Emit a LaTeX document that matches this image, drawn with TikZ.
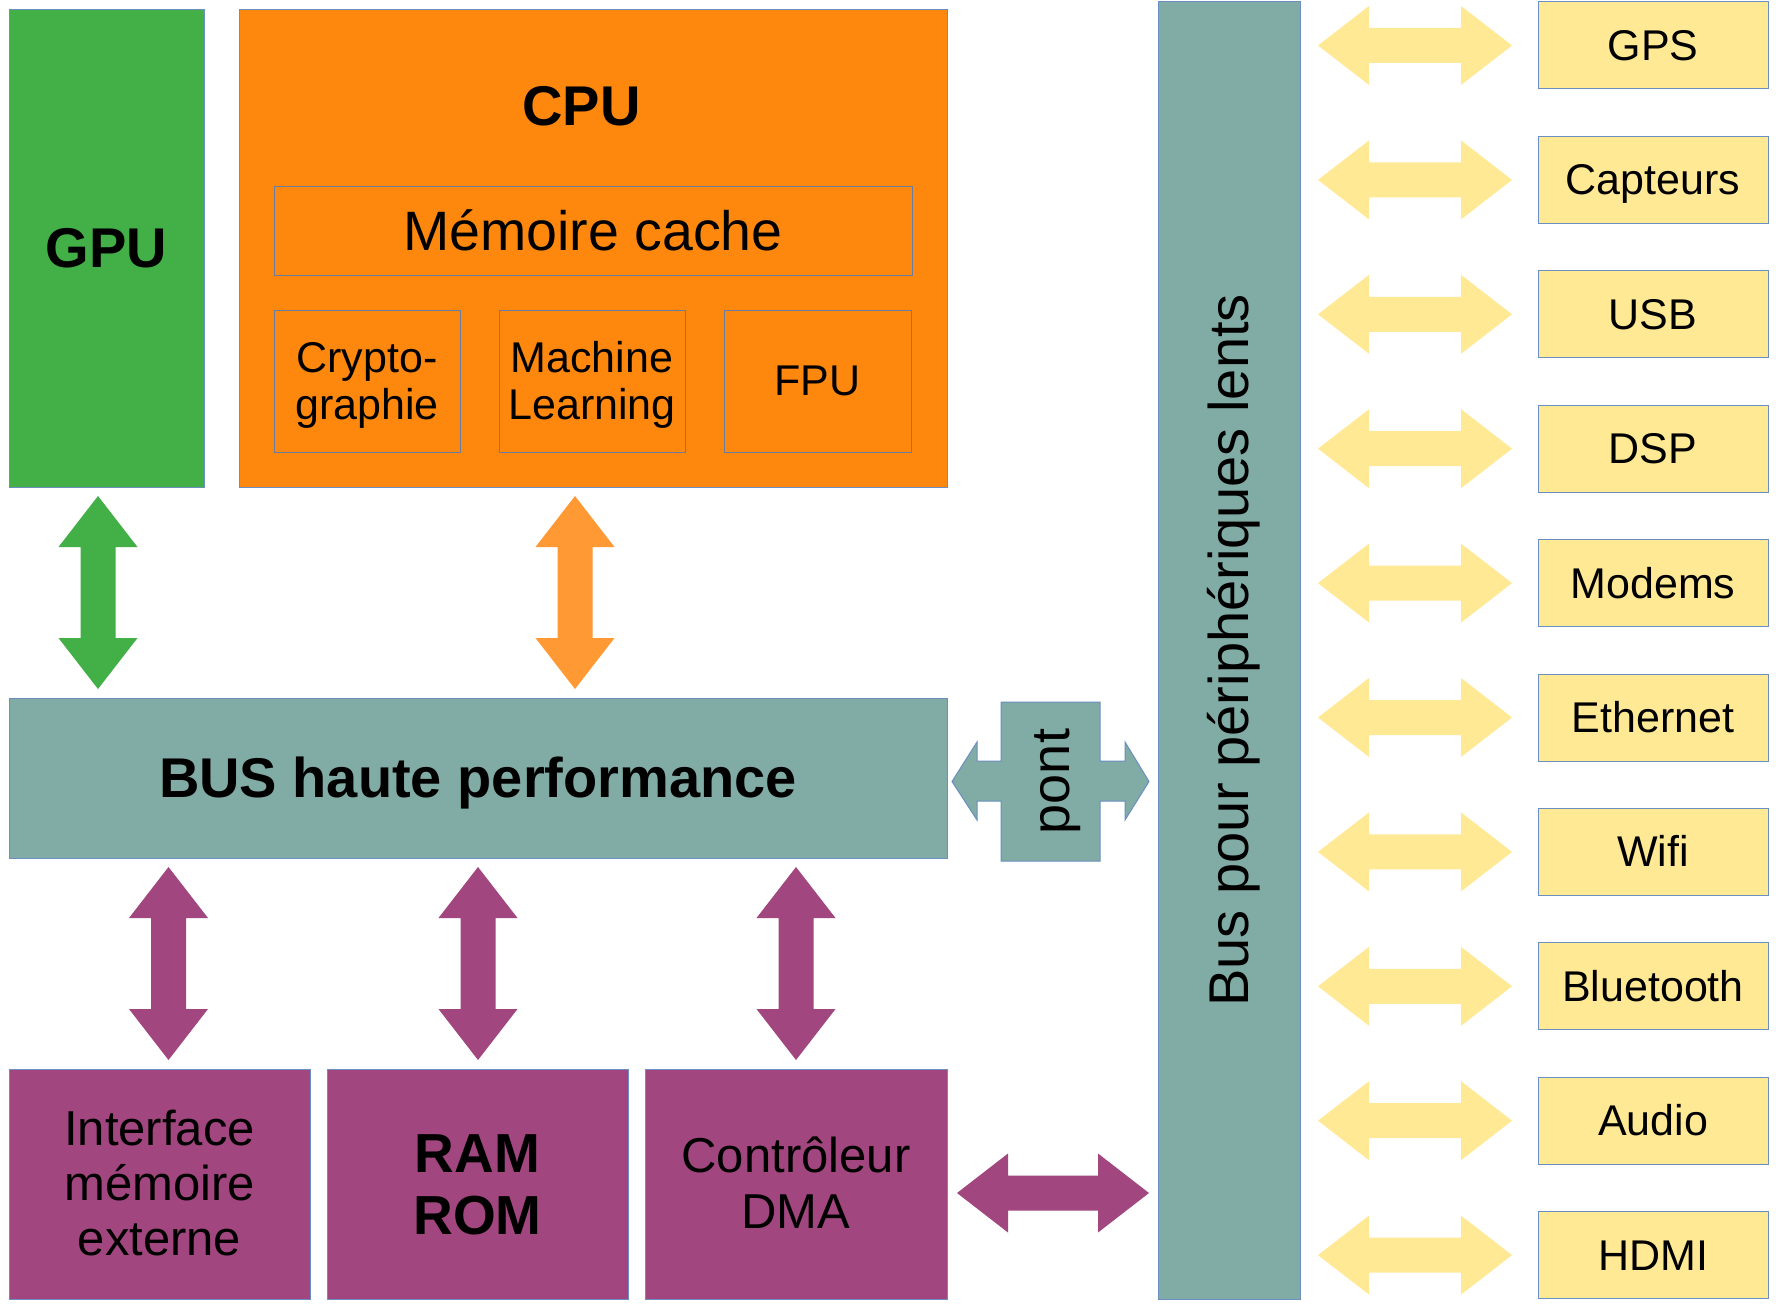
\documentclass[tikz,border=0pt]{standalone}
\usepackage{fontspec}
\setmainfont{Liberation Sans}
\usetikzlibrary{calc}
\definecolor{cgreen}{RGB}{66,175,71}
\definecolor{corange}{RGB}{254,135,14}
\definecolor{carrorange}{RGB}{255,153,51}
\definecolor{cteal}{RGB}{129,171,165}
\definecolor{cpurple}{RGB}{161,70,126}
\definecolor{cyellow}{RGB}{255,233,148}
\definecolor{cedge}{RGB}{106,143,192}
\definecolor{cinner}{RGB}{105,125,160}
\newcommand\tp{\rule{0pt}{0.905em}}
\newcommand\bt{\rule[-0.212em]{0pt}{0.212em}}
\newcommand\blockarrow[3]{%
  \fill[#1] (#2)
    -- ($(#2)!51pt!(#3)!39.5pt!90:(#3)$)
    -- ($(#2)!51pt!(#3)!17.5pt!90:(#3)$)
    -- ($(#3)!51pt!(#2)!17.5pt!-90:(#2)$)
    -- ($(#3)!51pt!(#2)!39.5pt!-90:(#2)$)
    -- (#3)
    -- ($(#3)!51pt!(#2)!39.5pt!90:(#2)$)
    -- ($(#3)!51pt!(#2)!17.5pt!90:(#2)$)
    -- ($(#2)!51pt!(#3)!17.5pt!-90:(#3)$)
    -- ($(#2)!51pt!(#3)!39.5pt!-90:(#3)$)
    -- cycle;}
\tikzset{
  box/.style={draw=cedge, line width=1pt, inner sep=0pt, align=center},
  subbox/.style={draw=cinner, line width=1pt, fill=corange, inner sep=0pt, align=center,
    font={\fontsize{43pt}{47pt}\selectfont}},
  bigbold/.style={font={\fontsize{56pt}{62pt}\selectfont\bfseries}},
  periph/.style={box, fill=cyellow, minimum width=230pt, minimum height=87pt,
    font={\fontsize{43pt}{47pt}\selectfont}},
  membox/.style={box, fill=cpurple, minimum width=301pt, minimum height=230pt},
}
\begin{document}
\begin{tikzpicture}[x=1pt,y=-1pt]
\useasboundingbox (0,0) rectangle (1776,1308);
\fill[white] (0,0) rectangle (1776,1308);

% GPU and CPU
\node[box, fill=cgreen, minimum width=195pt, minimum height=477pt, bigbold] (gpu) at (106.5,248.5) {\tp GPU\bt};
\node[box, fill=corange, minimum width=708pt, minimum height=477pt] (cpu) at (593,248.5) {};
\node[anchor=base, inner sep=0pt, bigbold] (cputitle) at (581.5,126) {CPU};
\node[subbox, minimum width=638pt, minimum height=88pt, font={\fontsize{55.5pt}{62pt}\selectfont}] (cache) at (593,231) {\tp Mémoire cache\bt};
\node[subbox, minimum width=186pt, minimum height=142pt] (crypto) at (367,381) {\tp Crypto-\\graphie\bt};
\node[subbox, minimum width=186pt, minimum height=142pt] (ml) at (592,381) {\tp Machine\\Learning\bt};
\node[subbox, minimum width=187pt, minimum height=142pt] (fpu) at (817.5,381) {\tp FPU\bt};

% high performance bus
\node[box, fill=cteal, minimum width=938pt, minimum height=160pt, bigbold] (bus) at (478,778) {\tp BUS haute performance\bt};

% memory side
\node[membox, font={\fontsize{49pt}{55pt}\selectfont}] (ext) at (159.5,1184) {\tp Interface\\mémoire\\externe\bt};
\node[membox, font={\fontsize{55pt}{62pt}\selectfont\bfseries}] (ram) at (477.5,1184) {\tp RAM\\ROM\bt};
\node[membox, minimum width=302pt, font={\fontsize{49pt}{56pt}\selectfont}] (dma) at (796,1184) {\tp Contrôleur\\DMA\bt};

% slow bus
\node[box, fill=cteal, rotate=90, minimum width=1297pt, minimum height=142pt,
  font={\fontsize{56pt}{62pt}\selectfont}] (slow) at (1229,650.5) {\tp Bus pour périphériques lents\bt};

% bridge
\draw[draw=cedge, line width=1pt, fill=cteal]
  (1001,702) -- (1100,702) -- (1100,761) -- (1125,761) -- (1125,742) -- (1149,781.5)
  -- (1125,820) -- (1125,801) -- (1100,801) -- (1100,861) -- (1001,861) -- (1001,801)
  -- (977,801) -- (977,820) -- (952,781.5) -- (977,742) -- (977,761) -- (1001,761) -- cycle;
\node[rotate=90, inner sep=0pt, font={\fontsize{54pt}{60pt}\selectfont}] (pont) at (1050.5,781.5) {\tp pont\bt};

% peripherals
\foreach \t [count=\i from 0] in {GPS,Capteurs,USB,DSP,Modems,Ethernet,Wifi,Bluetooth,Audio,HDMI}{
  \pgfmathsetmacro\cy{45.5+134.4*\i}
  \node[periph] (p\i) at (1653,\cy) {\tp \t\bt};
  \coordinate (ya\i) at (1318,\cy);
  \coordinate (yb\i) at (1512,\cy);
  \blockarrow{cyellow}{ya\i}{yb\i}
}

% arrows
\coordinate (ga) at (98,496);   \coordinate (gb) at (98,689);
\coordinate (oa) at (575,496);  \coordinate (ob) at (575,689);
\coordinate (ma1) at (168.5,867); \coordinate (mb1) at (168.5,1060);
\coordinate (ma2) at (478,867);   \coordinate (mb2) at (478,1060);
\coordinate (ma3) at (796,867);   \coordinate (mb3) at (796,1060);
\coordinate (da) at (957,1193);   \coordinate (db) at (1149,1193);
\blockarrow{cgreen}{ga}{gb}
\blockarrow{carrorange}{oa}{ob}
\blockarrow{cpurple}{ma1}{mb1}
\blockarrow{cpurple}{ma2}{mb2}
\blockarrow{cpurple}{ma3}{mb3}
\blockarrow{cpurple}{da}{db}
\end{tikzpicture}
\end{document}
